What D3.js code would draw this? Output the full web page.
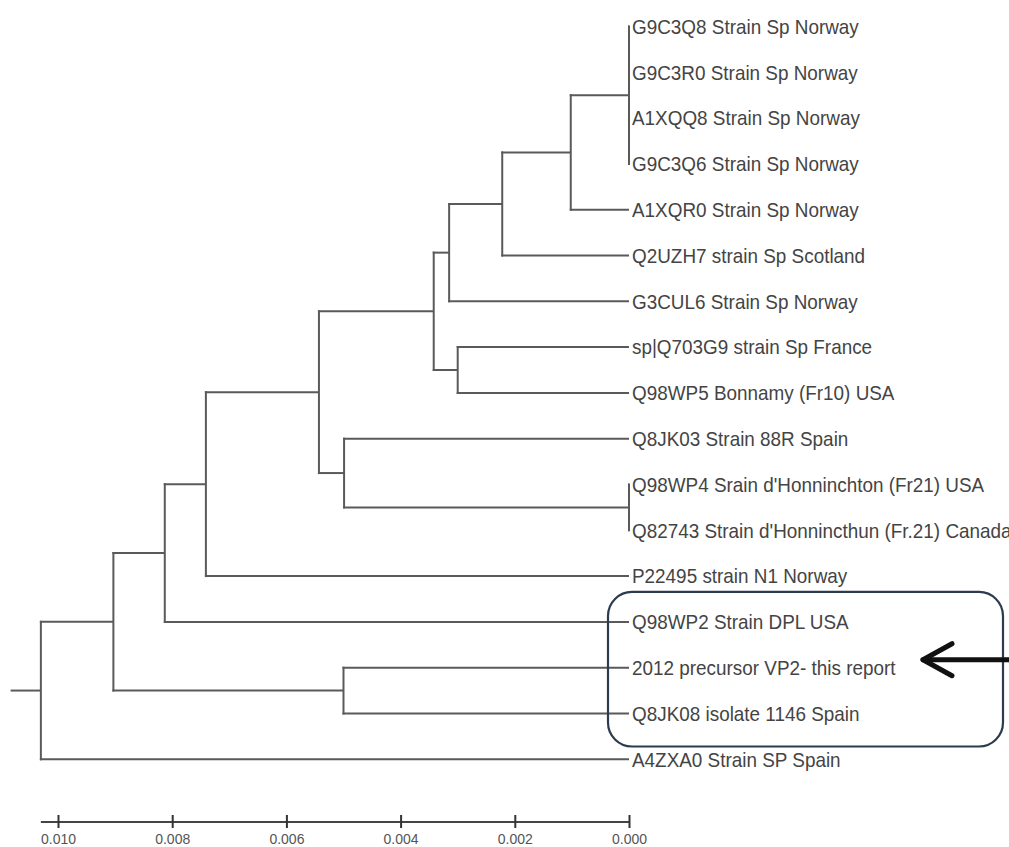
<!DOCTYPE html>
<html>
<head>
<meta charset="utf-8">
<script src="https://cdn.jsdelivr.net/npm/d3@7"></script>
<style>
  html, body { margin: 0; padding: 0; background: #fff; }
  svg { display: block; }
  .branch { stroke: #5a5a5a; stroke-width: 2; fill: none; }
  .taxon { font-family: "Liberation Sans", Arial, sans-serif; font-size: 21px; fill: #444; }
  .scale text { font-family: "Liberation Sans", Arial, sans-serif; font-size: 14px; fill: #555; }
</style>
</head>
<body>
<svg id="tree"></svg>
<script>
// taxa, top to bottom
const taxa = [
  "G9C3Q8 Strain Sp Norway",
  "G9C3R0 Strain Sp Norway",
  "A1XQQ8 Strain Sp Norway",
  "G9C3Q6 Strain Sp Norway",
  "A1XQR0 Strain Sp Norway",
  "Q2UZH7 strain Sp Scotland",
  "G3CUL6 Strain Sp Norway",
  "sp|Q703G9 strain Sp France",
  "Q98WP5 Bonnamy (Fr10) USA",
  "Q8JK03 Strain 88R Spain",
  "Q98WP4 Srain d'Honninchton (Fr21) USA",
  "Q82743 Strain d'Honnincthun (Fr.21) Canada",
  "P22495 strain N1 Norway",
  "Q98WP2 Strain DPL USA",
  "2012 precursor VP2- this report",
  "Q8JK08 isolate 1146 Spain",
  "A4ZXA0 Strain SP Spain"
];
// parent clade of each taxon
const taxonParent = ["n13", "n13", "n13", "n13", "n12", "n11", "n10", "n9", "n9", "n7", "n8", "n8", "n4", "n2", "n3", "n3", "n0"];

// internal clades: id, parent, distance from the tips
const cladeIds    = ["n0",    "n1",    "n2",    "n3",    "n4",    "n5",    "n6",    "n7",    "n8", "n9",    "n10",   "n11",   "n12",   "n13"];
const cladeParent = [null,    "n0",    "n1",    "n1",    "n2",    "n4",    "n5",    "n5",    "n7", "n6",    "n6",    "n10",   "n11",   "n12"];
const cladeHeight = [0.01030, 0.00903, 0.00813, 0.00500, 0.00741, 0.00543, 0.00342, 0.00499, 0,    0.00300, 0.00315, 0.00222, 0.00102, 0];
const rootStem = 0.00053;

const scaleTicks = [0.010, 0.008, 0.006, 0.004, 0.002, 0.000];
const highlighted = [13, 14, 15]; // boxed taxa

const width = 1009, height = 847;
const svg = d3.select("#tree").attr("width", width).attr("height", height);

const x = d3.scaleLinear().domain([0.010, 0]).range([58, 629]);
const y = d3.scaleLinear().domain([0, taxa.length - 1]).range([26.5, 759.3]);

const table = cladeIds.map((id, i) => ({ id: id, parent: cladeParent[i], height: cladeHeight[i] }))
  .concat(taxa.map((name, i) => ({ id: name, parent: taxonParent[i], height: 0, order: i })));

const root = d3.stratify().id(d => d.id).parentId(d => d.parent)(table);

root.eachAfter(n => {
  n.px = x(n.data.height);
  if (!n.children) {
    n.py = y(n.data.order);
  } else {
    const ys = n.children.map(c => c.py);
    n.py = (d3.min(ys) + d3.max(ys)) / 2;
  }
});

const g = svg.append("g");

// root stem
g.append("line").attr("class", "branch")
  .attr("x1", x(root.data.height + rootStem)).attr("x2", root.px)
  .attr("y1", root.py).attr("y2", root.py);

// horizontal branches
g.selectAll(".hbranch")
  .data(root.descendants().filter(n => n.parent))
  .join("line")
  .attr("class", "branch hbranch")
  .attr("x1", n => n.parent.px - 1).attr("x2", n => n.px)
  .attr("y1", n => n.py).attr("y2", n => n.py);

// vertical connectors
g.selectAll(".vbranch")
  .data(root.descendants().filter(n => n.children))
  .join("line")
  .attr("class", "branch vbranch")
  .attr("x1", n => n.px).attr("x2", n => n.px)
  .attr("y1", n => d3.min(n.children, c => c.py) - 1)
  .attr("y2", n => d3.max(n.children, c => c.py) + 1);

// taxon labels
g.selectAll(".taxon")
  .data(root.leaves())
  .join("text")
  .attr("class", "taxon")
  .attr("transform", n => "translate(" + (n.px + 3) + "," + n.py + ") scale(0.9,1)")
  .attr("dy", "0.35em")
  .text(n => n.data.id);

// scale bar
const axisY = 822;
const axis = d3.axisBottom(x).tickValues(scaleTicks).tickFormat(d3.format(".3f")).tickSize(6).tickSizeOuter(0);
const ax = svg.append("g").attr("class", "scale").attr("transform", "translate(0," + axisY + ")").call(axis);
ax.select(".domain").remove();
ax.insert("line", ":first-child")
  .attr("x1", x(root.data.height)).attr("x2", x(0))
  .attr("y1", 0).attr("y2", 0)
  .attr("stroke", "#444").attr("stroke-width", 2);
ax.selectAll(".tick line").attr("y1", -7).attr("y2", 6).attr("stroke", "#333").attr("stroke-width", 2);
ax.selectAll(".tick text").attr("y", 12).attr("dy", "0.71em");

// highlight box and arrow
const boxTop = y(d3.min(highlighted)) - 30;
const boxBottom = y(d3.max(highlighted)) + 33;
const boxLeft = x(0) - 21;
svg.append("rect")
  .attr("x", boxLeft).attr("y", boxTop)
  .attr("width", width - 6 - boxLeft).attr("height", boxBottom - boxTop)
  .attr("rx", 24).attr("ry", 24)
  .attr("fill", "none").attr("stroke", "#2c3b50").attr("stroke-width", 2.2);

const arrowY = y(highlighted[1]) - 8;
const tipX = 923;
const arrow = svg.append("g").attr("stroke", "#111").attr("stroke-width", 5).attr("fill", "none")
  .attr("stroke-linecap", "round").attr("stroke-linejoin", "round");
arrow.append("line").attr("x1", width + 2).attr("x2", tipX).attr("y1", arrowY).attr("y2", arrowY);
arrow.append("polyline")
  .attr("points", [[tipX + 29, arrowY - 16], [tipX, arrowY], [tipX + 29, arrowY + 16]].map(p => p.join(",")).join(" "));
</script>
</body>
</html>
